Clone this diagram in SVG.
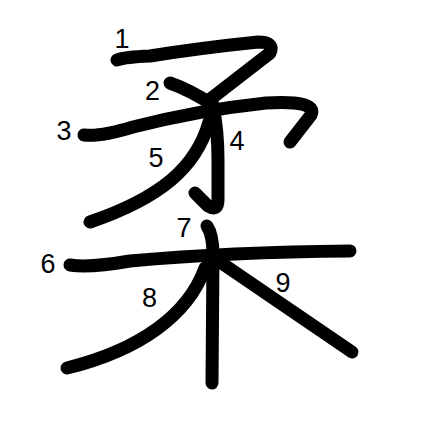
<svg xmlns="http://www.w3.org/2000/svg" width="447" height="447" viewBox="0 0 447 447">
<style>
.s{fill:none;stroke:#000;stroke-width:13;stroke-linecap:round;stroke-linejoin:round}
.n{font-family:"Liberation Sans",Arial,sans-serif;font-size:27px;fill:#000;text-anchor:middle}
</style>
<rect width="447" height="447" fill="#fff"/>
<g id="strokes">
<path id="s1" class="s" d="M117,60 Q125,57 150,56 Q200,48 258,42 Q275,42 270,53 L208,101"/>
<path id="s2" class="s" d="M170,83 Q190,90 213,105"/>
<path id="s3" class="s" d="M84,135 Q100,137 133,127 Q200,110 266,103 Q318,100 311,115 L290,142"/>
<path id="s4" class="s" d="M213,107 Q218,130 218,160 L218,200 Q218,212 208,206 L195,193"/>
<path id="s5" class="s" d="M209,122 C196,168 160,198 90,222"/>
<path id="s6" class="s" d="M70,265 Q90,268 130,261 Q230,252 350,251"/>
<path id="s7" class="s" d="M207,226 Q213,235 213,255 L212,383"/>
<path id="s8" class="s" d="M205,268 C188,315 140,350 67,368"/>
<path id="s9" class="s" d="M220,262 Q290,310 352,352"/>
</g>
<g id="labels">
<text class="n" x="122" y="48">1</text>
<text class="n" x="152.5" y="100">2</text>
<text class="n" x="64" y="140">3</text>
<text class="n" x="237" y="150">4</text>
<text class="n" x="156" y="167">5</text>
<text class="n" x="48" y="272.5">6</text>
<text class="n" x="184" y="237">7</text>
<text class="n" x="149.5" y="307">8</text>
<text class="n" x="283" y="291.5">9</text>
</g>
</svg>
